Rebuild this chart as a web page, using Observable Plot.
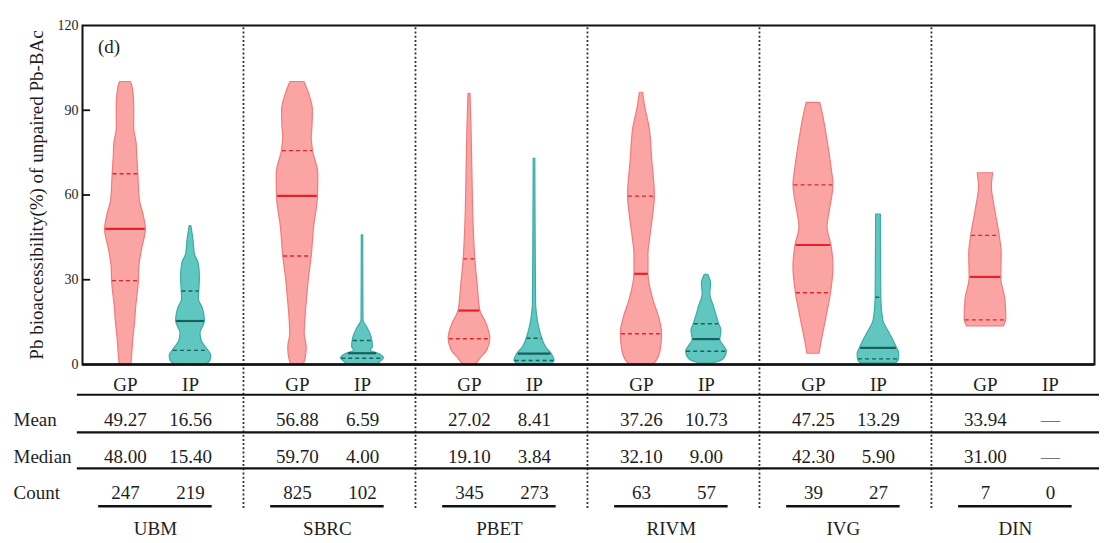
<!DOCTYPE html>
<html><head><meta charset="utf-8">
<script src="https://cdn.jsdelivr.net/npm/d3@7"></script>
<script src="https://cdn.jsdelivr.net/npm/@observablehq/plot@0.6"></script>
<style>html,body{margin:0;padding:0;background:#fff;} #chart svg{display:block;}</style>
</head><body><div id="chart"></div>
<script>
// ---------- data ----------
const methods = ["UBM", "SBRC", "PBET", "RIVM", "IVG", "DIN"];
const types = ["GP", "IP"];
const meanGP = [49.27, 56.88, 27.02, 37.26, 47.25, 33.94];
const meanIP = [16.56, 6.59, 8.41, 10.73, 13.29, null];
const medianGP = [48.00, 59.70, 19.10, 32.10, 42.30, 31.00];
const medianIP = [15.40, 4.00, 3.84, 9.00, 5.90, null];
const countGP = [247, 825, 345, 63, 39, 7];
const countIP = [219, 102, 273, 57, 27, 0];
const q1GP = [29.7, 38.4, 9.1, 10.9, 25.4, 15.8];
const q3GP = [67.5, 75.7, 37.4, 59.6, 63.6, 45.7];
const q1IP = [5.0, 2.2, 1.4, 4.7, 2.0, null];
const q3IP = [26.0, 8.5, 9.3, 14.4, 23.8, null];
const yTicks = [0, 30, 60, 90, 120];
const yLabel = "Pb bioaccessibility(%) of unpaired Pb-BAc";
const panelTag = "(d)";
const rowNames = ["Mean", "Median", "Count"];

// violin profiles: [value, relative density (half-width)]
const violinUBM_GP = [[0,0.29],[3.8,0.34],[7.3,0.37],[16.7,0.5],[19,0.52],[29.7,0.67],[34.4,0.69],[41.5,0.85],[47.7,1.02],[53.3,0.89],[58,0.72],[67.5,0.64],[74.6,0.58],[78,0.56],[84,0.43],[90,0.44],[95.8,0.40],[98.5,0.34],[100,0.27]];
const violinUBM_IP = [[0,0.8],[1.4,1.0],[3.2,1.04],[5,0.88],[8.5,0.55],[11,0.5],[15.3,0.72],[19.8,0.62],[23,0.42],[26,0.44],[30.9,0.47],[35.7,0.41],[39,0.22],[43.9,0.15],[49,0.04]];
const violinSBRC_GP = [[0,0.32],[2.6,0.42],[6.1,0.46],[10.9,0.36],[15.6,0.39],[22.7,0.47],[31,0.58],[38.2,0.71],[48.6,0.83],[59,1.02],[67.5,1.04],[75.5,0.78],[80.5,0.71],[84,0.75],[90,0.77],[95.8,0.58],[100,0.35]];
const violinSBRC_IP = [[0,0.75],[0.8,0.88],[2.2,1.07],[3.5,0.88],[5,0.42],[6.1,0.52],[9.7,0.45],[13.2,0.23],[15.6,0.05],[30,0.04],[45.7,0.035]];
const violinPBET_GP = [[0,0.33],[2,0.54],[5,0.89],[9.1,1.04],[14.4,0.85],[19.1,0.54],[27.4,0.42],[37.4,0.29],[48.6,0.21],[66.3,0.15],[84,0.1],[95.8,0.05]];
const violinPBET_IP = [[0,0.84],[1.4,1.0],[3.5,0.88],[6.1,0.58],[9.3,0.38],[13.2,0.23],[16.7,0.14],[21.5,0.08],[40,0.06],[72.8,0.04]];
const violinRIVM_GP = [[0,0.6],[1.4,0.77],[5,0.96],[10.9,1.03],[16.7,0.88],[22.7,0.6],[32.1,0.35],[39.2,0.35],[43.9,0.42],[52.1,0.57],[59.6,0.67],[72.2,0.54],[84,0.4],[91,0.19],[96.2,0.08]];
const violinRIVM_IP = [[0.3,0.3],[0.8,0.54],[2,0.88],[4.7,1.02],[6.7,0.85],[8.7,0.69],[12,0.75],[14.4,0.63],[20.3,0.38],[25,0.19],[28.6,0.23],[31.7,0.09]];
const violinIVG_GP = [[3.8,0.3],[8.5,0.42],[16.7,0.65],[25.4,0.88],[34.4,1.0],[42.1,0.9],[48.6,0.7],[54.5,0.82],[63.6,1.0],[68.7,0.92],[78.1,0.73],[87.5,0.5],[92.6,0.34]];
const violinIVG_IP = [[0.5,0.9],[2,1.03],[3.8,1.04],[5.9,0.92],[7.9,0.79],[10.9,0.57],[15.6,0.24],[23.8,0.14],[36.8,0.13],[48.6,0.12],[53.1,0.12]];
const violinDIN_GP = [[13.5,0.92],[15.8,1.04],[22.7,1.0],[30.7,0.79],[39.2,0.81],[45.7,0.71],[55.7,0.46],[62.8,0.32],[67.7,0.39]];
const violinDIN_IP = [];

// ---------- layout constants ----------
const GP_OFF = 0.25, IP_OFF = 0.628, SEP_OFF = 0.936, XMAX = 5.884;
const WK = 20 / 172;  // relative density -> x units
const ROW = {head: -7.1, line1: -10.7, mean: -19.5, line2: -24.0, median: -32.6, line3: -36.8, count: -45.6, under: -50.2, method: -58.1};
const pink = "#fba4a4", pinkStroke = "#f47a7a", red = "#e5222b";
const teal = "#60c6c0", tealStroke = "#3aaca6", darkTeal = "#17605c";
const ink = "#1e1e1e";

const profiles = {
  GP: [violinUBM_GP, violinSBRC_GP, violinPBET_GP, violinRIVM_GP, violinIVG_GP, violinDIN_GP],
  IP: [violinUBM_IP, violinSBRC_IP, violinPBET_IP, violinRIVM_IP, violinIVG_IP, violinDIN_IP]
};
const center = (i, t) => i + (t === "GP" ? GP_OFF : IP_OFF);

const violinRows = [];
types.forEach(t => methods.forEach((m, i) => {
  profiles[t][i].forEach(([v, w]) => violinRows.push({key: m + t, type: t, cx: center(i, t), v, w}));
}));

function widthAt(prof, v) {
  for (let j = 0; j < prof.length - 1; j++) {
    const [a, wa] = prof[j], [b, wb] = prof[j + 1];
    if (v >= a && v <= b) return wa + (wb - wa) * (v - a) / (b - a);
  }
  return 0;
}
const qLines = [];
methods.forEach((m, i) => {
  [["GP", q1GP[i], medianGP[i], q3GP[i]], ["IP", q1IP[i], medianIP[i], q3IP[i]]].forEach(([t, q1, md, q3]) => {
    const prof = profiles[t][i];
    if (!prof.length) return;
    [[q1, "q"], [md, "m"], [q3, "q"]].forEach(([v, kind]) => {
      const hw = widthAt(prof, v) * WK * 0.97;
      qLines.push({type: t, kind, v, x1: center(i, t) - hw, x2: center(i, t) + hw});
    });
  });
});

const fmt = v => v == null ? "—" : v.toFixed(2);
const cells = [];
methods.forEach((m, i) => {
  cells.push({x: center(i, "GP"), y: ROW.head, s: "GP"});
  cells.push({x: center(i, "IP"), y: ROW.head, s: "IP"});
  cells.push({x: center(i, "GP"), y: ROW.mean, s: fmt(meanGP[i])});
  cells.push({x: center(i, "IP"), y: ROW.mean, s: fmt(meanIP[i])});
  cells.push({x: center(i, "GP"), y: ROW.median, s: fmt(medianGP[i])});
  cells.push({x: center(i, "IP"), y: ROW.median, s: fmt(medianIP[i])});
  cells.push({x: center(i, "GP"), y: ROW.count, s: String(countGP[i])});
  cells.push({x: center(i, "IP"), y: ROW.count, s: String(countIP[i])});
});
const groupMid = methods.map((m, i) => ({m, x: (center(i, "GP") + center(i, "IP")) / 2 - 0.015}));
const seps = methods.slice(0, -1).map((m, i) => i + SEP_OFF);

const chart = Plot.plot({
  width: 1106, height: 543,
  marginLeft: 82, marginRight: 12, marginTop: 25, marginBottom: 179,
  style: {fontFamily: "'Liberation Serif', 'Times New Roman', serif", color: ink, background: "#fff"},
  x: {domain: [0, XMAX], axis: null},
  y: {domain: [0, 120], axis: null},
  marks: [
    // violins
    ...types.map(t => Plot.areaX(violinRows.filter(d => d.type === t), {
      y: "v", x1: d => d.cx - d.w * WK, x2: d => d.cx + d.w * WK, z: "key",
      fill: t === "GP" ? pink : teal, stroke: t === "GP" ? pinkStroke : tealStroke,
      strokeWidth: 1.2, curve: "monotone-y"
    })),
    // quartile & median lines
    Plot.ruleY(qLines.filter(d => d.kind === "q"), {y: "v", x1: "x1", x2: "x2",
      stroke: d => d.type === "GP" ? red : darkTeal, strokeWidth: 1.4, strokeDasharray: "4,3"}),
    Plot.ruleY(qLines.filter(d => d.kind === "m"), {y: "v", x1: "x1", x2: "x2",
      stroke: d => d.type === "GP" ? red : darkTeal, strokeWidth: 2.2}),
    // separators
    Plot.ruleX(seps, {y1: -51, y2: 120, stroke: "#333", strokeWidth: 1.8, strokeDasharray: "2,2.2"}),
    // frame
    Plot.frame({stroke: "#111", strokeWidth: 2}),
    Plot.ruleY([0], {stroke: "#111", strokeWidth: 2.6}),
    // y ticks (inward) and labels
    Plot.ruleY(yTicks.slice(1, -1), {x1: 0, x2: 0.047, stroke: "#111", strokeWidth: 1.8}),
    Plot.axisY({ticks: yTicks, tickSize: 0, tickPadding: 4, fontSize: 14, label: null}),
    Plot.text([yLabel], {x: -0.267, y: 60, rotate: -90, fontSize: 19, fill: ink}),
    Plot.text([panelTag], {x: 0.154, y: 112.3, fontSize: 19, fill: ink}),
    // table lines
    Plot.ruleY([ROW.line1, ROW.line2, ROW.line3], {x1: -0.03, x2: 5.913, stroke: "#111", strokeWidth: 2.2}),
    Plot.ruleY(groupMid, {y: ROW.under, x1: d => d.x - 0.33, x2: d => d.x + 0.33, stroke: "#111", strokeWidth: 2.4}),
    // table text
    Plot.text(cells, {x: "x", y: "y", text: "s", fontSize: 19, fill: d => d.s === "—" ? "#777" : ink}),
    Plot.text(rowNames, {x: -0.401, y: d => [ROW.mean, ROW.median, ROW.count][rowNames.indexOf(d)], text: d => d, textAnchor: "start", fontSize: 19, fill: ink}),
    Plot.text(groupMid, {x: "x", y: ROW.method, text: "m", fontSize: 19, fill: ink})
  ]
});
document.getElementById("chart").appendChild(chart);
</script>
</body></html>
